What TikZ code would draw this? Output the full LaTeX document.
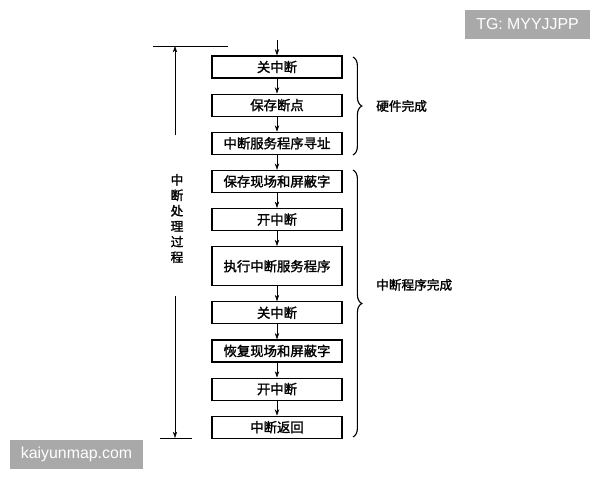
\documentclass[tikz,border=0pt]{standalone}
\usepackage{fontspec}
\newfontfamily\cjk{Noto Sans CJK SC}[FakeBold=1.6]
\newfontfamily\wmfont{Liberation Sans}
\usepackage{tikz}
\usetikzlibrary{positioning,arrows.meta,decorations.pathreplacing}

\definecolor{wmgray}{HTML}{A9A9A9}

\begin{document}
\begin{tikzpicture}[
  x=0.025cm, y=-0.025cm,
  >={Stealth[length=1.6mm,width=1.1mm]},
  box/.style={draw, thick, minimum height=0.55cm, minimum width=3.25cm, inner sep=0pt, align=center, font=\cjk\fontsize{9.5}{11}\selectfont},
  tallbox/.style={box, minimum height=0.975cm},
  wm/.style={fill=wmgray, text=white, inner sep=0pt, font=\wmfont\fontsize{11.3}{13}\selectfont},
  node distance=0.375cm,
  every node/.style={font=\cjk\fontsize{9}{11}\selectfont}
]
\useasboundingbox (0,0) rectangle (600,480);

% steps
\node[box] (guan1) at (277,67) {关中断};
\node[box, below=of guan1] (baocun) {保存断点};
\node[box, below=of baocun] (xunzhi) {中断服务程序寻址};
\node[box, below=of xunzhi] (baohu) {保存现场和屏蔽字};
\node[box, below=of baohu] (kai1) {开中断};
\node[tallbox, below=of kai1] (zhixing) {执行中断服务程序};
\node[box, below=of zhixing] (guan2) {关中断};
\node[box, below=of guan2] (huifu) {恢复现场和屏蔽字};
\node[box, below=of huifu] (kai2) {开中断};
\node[box, below=of kai2] (fanhui) {中断返回};

\coordinate (entry) at (guan1.north |- 0,40);
\draw[->] (entry) -- (guan1);
\draw[->] (guan1) -- (baocun);
\draw[->] (baocun) -- (xunzhi);
\draw[->] (xunzhi) -- (baohu);
\draw[->] (baohu) -- (kai1);
\draw[->] (kai1) -- (zhixing);
\draw[->] (zhixing) -- (guan2);
\draw[->] (guan2) -- (huifu);
\draw[->] (huifu) -- (kai2);
\draw[->] (kai2) -- (fanhui);

% braces
\draw[thick, decorate, decoration={brace, amplitude=0.22cm}]
  (353,57) -- (353,155) node[midway, right=0.45cm] (hw) {硬件完成};
\draw[thick, decorate, decoration={brace, amplitude=0.22cm}]
  (353,170) -- (353,437) node[pos=0.43, right=0.45cm] (sw) {中断程序完成};

% interrupt handling span
\coordinate (topL) at (153,46);
\coordinate (topR) at (228,46);
\coordinate (botL) at (160,438);
\coordinate (botR) at (192,438);
\draw (topL) -- (topR);
\draw (botL) -- (botR);
\node[align=center, font=\cjk\fontsize{9}{11}\selectfont] (span) at (177,218.5) {中\\断\\处\\理\\过\\程};
\coordinate (upstart) at (175,135);
\coordinate (downstart) at (175,296);
\draw[->] (upstart) -- (upstart |- topL);
\draw[->] (downstart) -- (downstart |- botL);

% watermarks
\node[wm, minimum width=3.125cm, minimum height=0.725cm] (tg) at (527.5,24.5) {TG: MYYJJPP};
\node[wm, minimum width=3.325cm, minimum height=0.725cm] (site) at (76.5,454.5) {kaiyunmap.com};
\end{tikzpicture}
\end{document}
